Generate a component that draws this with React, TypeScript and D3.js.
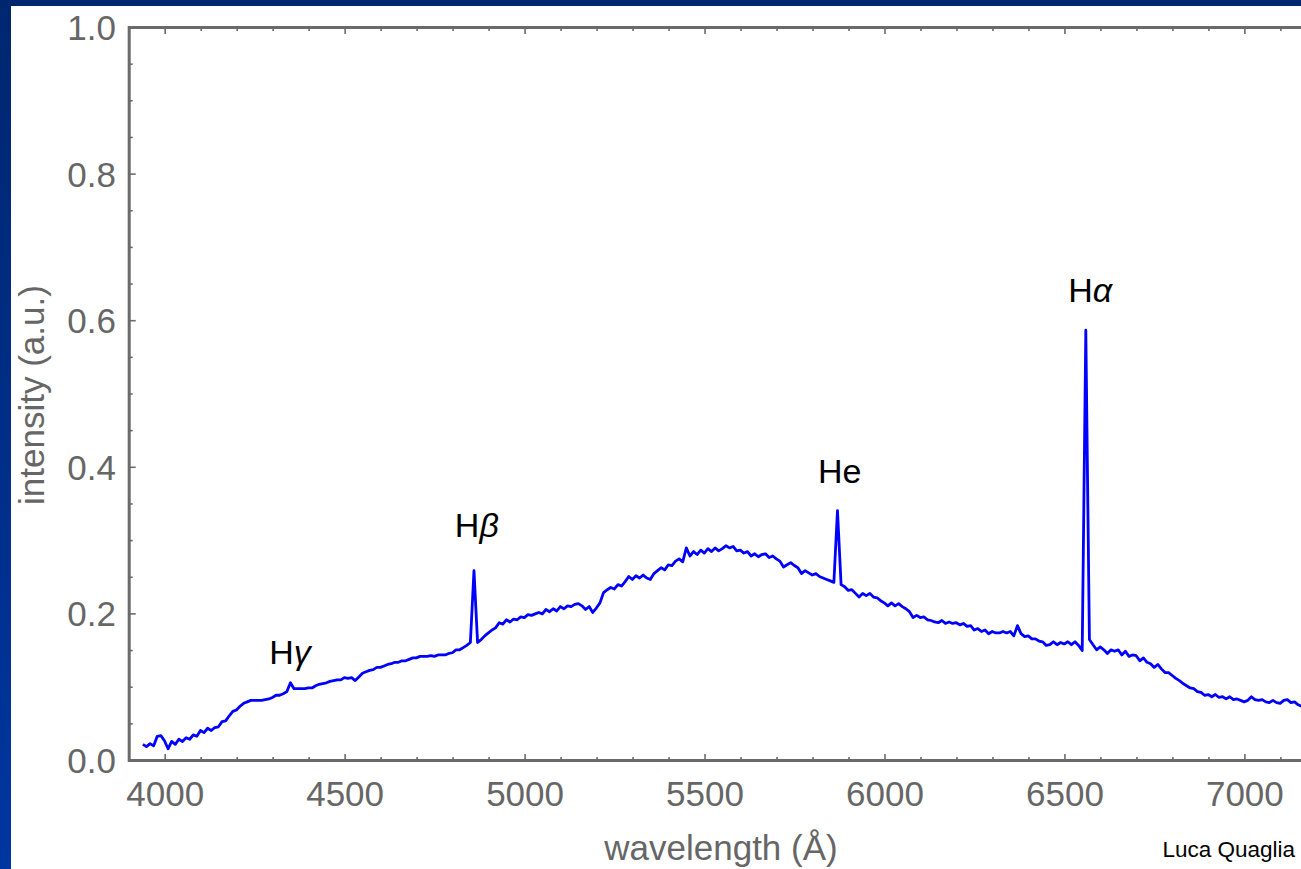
import * as d3 from "d3";
import React from "react";

const firstWavelength = 3938;
const wavelengthStep = 10;
const intensity = [
  0.022, 0.019, 0.023, 0.020, 0.033, 0.034, 0.027, 0.016, 0.026, 0.022,
  0.029, 0.026, 0.031, 0.029, 0.035, 0.033, 0.041, 0.038, 0.044, 0.041,
  0.045, 0.046, 0.053, 0.054, 0.061, 0.067, 0.069, 0.074, 0.078, 0.080,
  0.082, 0.082, 0.082, 0.082, 0.083, 0.084, 0.086, 0.089, 0.089, 0.091,
  0.094, 0.106, 0.098, 0.098, 0.098, 0.098, 0.099, 0.099, 0.102, 0.104,
  0.105, 0.106, 0.108, 0.109, 0.110, 0.110, 0.113, 0.112, 0.113, 0.109,
  0.114, 0.119, 0.121, 0.123, 0.124, 0.127, 0.127, 0.129, 0.131, 0.132,
  0.134, 0.134, 0.136, 0.136, 0.138, 0.140, 0.140, 0.142, 0.142, 0.142,
  0.143, 0.142, 0.144, 0.144, 0.144, 0.146, 0.147, 0.151, 0.151, 0.154,
  0.157, 0.161, 0.259, 0.161, 0.165, 0.170, 0.174, 0.178, 0.181, 0.188,
  0.186, 0.192, 0.189, 0.193, 0.192, 0.196, 0.195, 0.199, 0.198, 0.200,
  0.202, 0.200, 0.206, 0.203, 0.207, 0.204, 0.210, 0.207, 0.211, 0.210,
  0.213, 0.214, 0.211, 0.206, 0.210, 0.202, 0.208, 0.215, 0.229, 0.233,
  0.236, 0.234, 0.240, 0.238, 0.244, 0.251, 0.247, 0.252, 0.249, 0.253,
  0.249, 0.247, 0.255, 0.259, 0.263, 0.260, 0.267, 0.266, 0.272, 0.275,
  0.271, 0.290, 0.279, 0.285, 0.281, 0.287, 0.283, 0.289, 0.285, 0.290,
  0.286, 0.289, 0.293, 0.290, 0.292, 0.286, 0.287, 0.283, 0.285, 0.279,
  0.282, 0.278, 0.281, 0.282, 0.277, 0.279, 0.275, 0.272, 0.264, 0.267,
  0.270, 0.266, 0.263, 0.255, 0.259, 0.256, 0.253, 0.255, 0.251, 0.249,
  0.247, 0.245, 0.243, 0.341, 0.240, 0.237, 0.232, 0.233, 0.228, 0.223,
  0.228, 0.225, 0.228, 0.223, 0.222, 0.218, 0.215, 0.211, 0.215, 0.211,
  0.214, 0.210, 0.207, 0.203, 0.195, 0.198, 0.195, 0.196, 0.192, 0.191,
  0.189, 0.188, 0.191, 0.187, 0.189, 0.187, 0.188, 0.185, 0.187, 0.183,
  0.184, 0.178, 0.180, 0.176, 0.178, 0.173, 0.176, 0.174, 0.174, 0.176,
  0.174, 0.176, 0.170, 0.184, 0.173, 0.169, 0.170, 0.166, 0.166, 0.163,
  0.162, 0.157, 0.158, 0.162, 0.158, 0.161, 0.159, 0.162, 0.158, 0.162,
  0.157, 0.150, 0.587, 0.165, 0.158, 0.151, 0.155, 0.151, 0.146, 0.151,
  0.149, 0.151, 0.144, 0.149, 0.142, 0.144, 0.143, 0.136, 0.140, 0.134,
  0.132, 0.127, 0.131, 0.125, 0.120, 0.120, 0.116, 0.112, 0.109, 0.105,
  0.102, 0.099, 0.098, 0.094, 0.093, 0.089, 0.090, 0.087, 0.090, 0.086,
  0.087, 0.084, 0.087, 0.083, 0.084, 0.082, 0.080, 0.082, 0.087, 0.083,
  0.082, 0.083, 0.080, 0.079, 0.082, 0.079, 0.078, 0.082, 0.083, 0.079,
  0.080, 0.076, 0.074, 0.075, 0.072
];

// emission line labels (placed where they sit on the plot)
const lineNames = ["H", "H", "He", "H"];
const lineGreek = ["γ", "β", "", "α"];
const lineLabelWavelengths = [4347, 4866, 5874, 6570];
const lineLabelLevels = [0.131, 0.305, 0.379, 0.625];

const xTickLabels = [4000, 4500, 5000, 5500, 6000, 6500, 7000];
const yTickLabels = [0, 0.2, 0.4, 0.6, 0.8, 1.0];

const width = 1301;
const height = 869;
const font = "'Liberation Sans', Arial, sans-serif";
const axisGray = "#6a6a6a";

export default function App() {
  const x = d3.scaleLinear().domain([3900, 7200]).range([129.2, 129.2 + 3300 * 0.3599]);
  const y = d3.scaleLinear().domain([0, 1]).range([760.5, 27.5]);

  const spectrum = intensity.map((v, i) => ({
    w: firstWavelength + i * wavelengthStep,
    v
  }));

  const line = d3
    .line<{ w: number; v: number }>()
    .x((d) => x(d.w))
    .y((d) => y(d.v));

  const xMinor = d3.range(3900, 7201, 100);
  const yMinor = d3.range(0, 21).map((i) => i * 0.05);

  const [x0, x1] = x.range();
  const [y0, y1] = y.range();

  return (
    <div style={{ position: "fixed", left: 0, top: 0 }}>
      <svg width={width} height={height} style={{ display: "block" }}>
        <defs>
          <linearGradient id="slide" x1="0" y1="0" x2="0" y2="1">
            <stop offset="0" stopColor="#00266f" />
            <stop offset="1" stopColor="#0036a0" />
          </linearGradient>
        </defs>
        <rect x={0} y={0} width={width} height={height} fill="url(#slide)" />
        <rect x={11} y={6} width={width - 11} height={height - 6} fill="#fff" />

        {/* spectrum */}
        <path
          d={line(spectrum) ?? ""}
          fill="none"
          stroke="#0000ff"
          strokeWidth={2.8}
          strokeLinejoin="round"
        />

        {/* ticks */}
        <g stroke={axisGray} strokeWidth={1.6}>
          {xMinor.map((w) => {
            const len = w % 500 === 0 ? 6.5 : 3.5;
            return (
              <g key={"xt" + w}>
                <line x1={x(w)} x2={x(w)} y1={y0} y2={y0 - len} />
                <line x1={x(w)} x2={x(w)} y1={y1} y2={y1 + len} />
              </g>
            );
          })}
          {yMinor.map((v, i) => {
            const len = i % 4 === 0 ? 6.5 : 3.5;
            return <line key={"yt" + i} x1={x0} x2={x0 + len} y1={y(v)} y2={y(v)} />;
          })}
        </g>

        {/* frame */}
        <rect
          x={x0}
          y={y1}
          width={x1 - x0}
          height={y0 - y1}
          fill="none"
          stroke={axisGray}
          strokeWidth={3}
        />

        {/* tick labels */}
        <g fill="#666" fontFamily={font} fontSize={35}>
          {xTickLabels.map((w) => (
            <text key={"xl" + w} x={x(w)} y={806} textAnchor="middle">
              {w}
            </text>
          ))}
          {yTickLabels.map((v) => (
            <text key={"yl" + v} x={116} y={y(v) + 12.5} textAnchor="end">
              {v.toFixed(1)}
            </text>
          ))}
        </g>

        {/* axis titles */}
        <text
          x={721}
          y={860}
          textAnchor="middle"
          fill="#666"
          fontFamily={font}
          fontSize={35}
        >
          wavelength (Å)
        </text>
        <text
          transform="translate(44,395) rotate(-90)"
          textAnchor="middle"
          fill="#666"
          fontFamily={font}
          fontSize={35}
        >
          intensity (a.u.)
        </text>

        {/* line labels */}
        <g fill="#000" fontFamily={font} fontSize={34}>
          {lineLabelWavelengths.map((w, i) => (
            <text key={"ln" + i} x={x(w)} y={y(lineLabelLevels[i])} textAnchor="middle">
              {lineNames[i]}
              {lineGreek[i] && <tspan fontStyle="italic">{lineGreek[i]}</tspan>}
            </text>
          ))}
        </g>

        <text x={1295} y={857} textAnchor="end" fill="#000" fontFamily={font} fontSize={22.5}>
          Luca Quaglia
        </text>
      </svg>
    </div>
  );
}
